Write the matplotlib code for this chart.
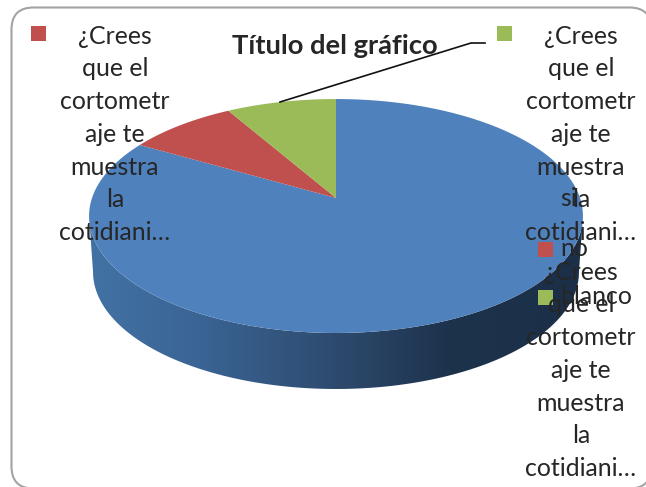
import numpy as np
import matplotlib
matplotlib.use('Agg')
import matplotlib.pyplot as plt
from matplotlib.patches import FancyBboxPatch, Polygon, Rectangle

plt.rcParams['font.family'] = ['Lato', 'DejaVu Sans']

TITLE = 'Título del gráfico'
CATEGORIES = ['si', 'no', 'blanco']
VALUES = [10, 1, 1]
COLORS = ['#4f81bd', '#c0504d', '#9bbb59']
QUESTION = '¿Crees\nque el\ncortometr\naje te\nmuestra\nla\ncotidiani…'

TEXT_COLOR = '#262626'
FONT_SIZE = 17.9
LINE_GAP = 1.515

# pie geometry in image pixels, rim drawn in perspective around the centre
CX, CY = 336, 198
A, B, K = 244, 114.2, 0.154
DEPTH = 56
SHADE_X = [90, 200, 323, 450, 580]
SHADE_R = [0x42, 0x3a, 0x2f, 0x1d, 0x1b]
SHADE_G = [0x72, 0x64, 0x4d, 0x32, 0x2f]
SHADE_B = [0xa4, 0x94, 0x72, 0x4b, 0x48]


def rim(theta, a=A, shift=0):
    # theta runs clockwise from the top of the pie, in radians
    w = 1 + K * np.cos(theta)
    return CX + a * np.sin(theta) / w, CY + shift - B * np.cos(theta) / w


def drawSide(ax):
    # only the front of the rim shows, between its left and right extremes
    right = np.arccos(-K)
    t = np.linspace(right, 2 * np.pi - right, 400)
    x0, y0 = rim(t)
    x1, y1 = rim(t[::-1], a=A * 243 / 247, shift=DEPTH)
    outline = Polygon(list(zip(x0, y0)) + list(zip(x1, y1)), transform=ax.transData)

    # side gets a left to right gradient, clipped to the rim
    xs = np.arange(80, 590)
    shade = np.stack([np.interp(xs, SHADE_X, SHADE_R),
                      np.interp(xs, SHADE_X, SHADE_G),
                      np.interp(xs, SHADE_X, SHADE_B)], axis=-1)[np.newaxis, :, :] / 255
    im = ax.imshow(shade, extent=(80, 590, 400, 100), aspect='auto', interpolation='bilinear', zorder=1)
    im.set_clip_path(outline)
    ax.set_xlim(0, 646)
    ax.set_ylim(487, 0)


def drawPie(ax):
    fractions = np.array(VALUES) / sum(VALUES)
    stops = np.concatenate([[0], np.cumsum(fractions)]) * 2 * np.pi
    drawSide(ax)
    for i, color in enumerate(COLORS):
        t = np.linspace(stops[i], stops[i + 1], 200)
        x, y = rim(t)
        points = [(CX, CY)] + list(zip(x, y))
        ax.add_patch(Polygon(points, facecolor=color, edgecolor='none', zorder=2))


def drawLegendEntry(ax, box_x, box_y, color):
    ax.add_patch(Rectangle((box_x, box_y), 15, 15, facecolor=color, edgecolor='none', zorder=4))


def drawQuestion(ax, x, y):
    ax.text(x, y, QUESTION, ha='center', va='top', fontsize=FONT_SIZE, color=TEXT_COLOR,
            linespacing=LINE_GAP, zorder=5)


def main():
    fig = plt.figure(figsize=(6.46, 4.87), dpi=100)
    ax = fig.add_axes([0, 0, 1, 1])
    ax.set_xlim(0, 646)
    ax.set_ylim(487, 0)
    ax.axis('off')

    # chart frame runs past the right and bottom of the picture
    ax.add_patch(FancyBboxPatch((33.5, 29.5), 596, 437, boxstyle='round,pad=22,rounding_size=22',
                                facecolor='white', edgecolor='#a3a3a3', linewidth=1.5, zorder=0))

    drawPie(ax)

    # leader line of the green slice
    ax.plot([280, 471, 485], [102, 43, 43], color='#111111', linewidth=1.2, zorder=3)

    ax.text(335, 46, TITLE, ha='center', va='center', fontsize=19.7, fontweight='bold',
            color=TEXT_COLOR, zorder=5)

    drawLegendEntry(ax, 31, 26, COLORS[1])
    drawQuestion(ax, 115, 24.5)
    drawLegendEntry(ax, 497, 26, COLORS[2])
    drawQuestion(ax, 581, 24.5)

    ax.text(560, 198, CATEGORIES[0], ha='left', va='center', fontsize=FONT_SIZE,
            color=TEXT_COLOR, zorder=5)
    drawLegendEntry(ax, 538, 242, COLORS[1])
    ax.text(560, 249, CATEGORIES[1], ha='left', va='center', fontsize=FONT_SIZE,
            color=TEXT_COLOR, zorder=5)
    drawQuestion(ax, 581, 260.5)
    drawLegendEntry(ax, 538, 290, COLORS[2])
    ax.text(560, 297, CATEGORIES[2], ha='left', va='center', fontsize=FONT_SIZE,
            color=TEXT_COLOR, zorder=5)

    fig.savefig('out.png', dpi=100)


if __name__ == '__main__':
    main()
